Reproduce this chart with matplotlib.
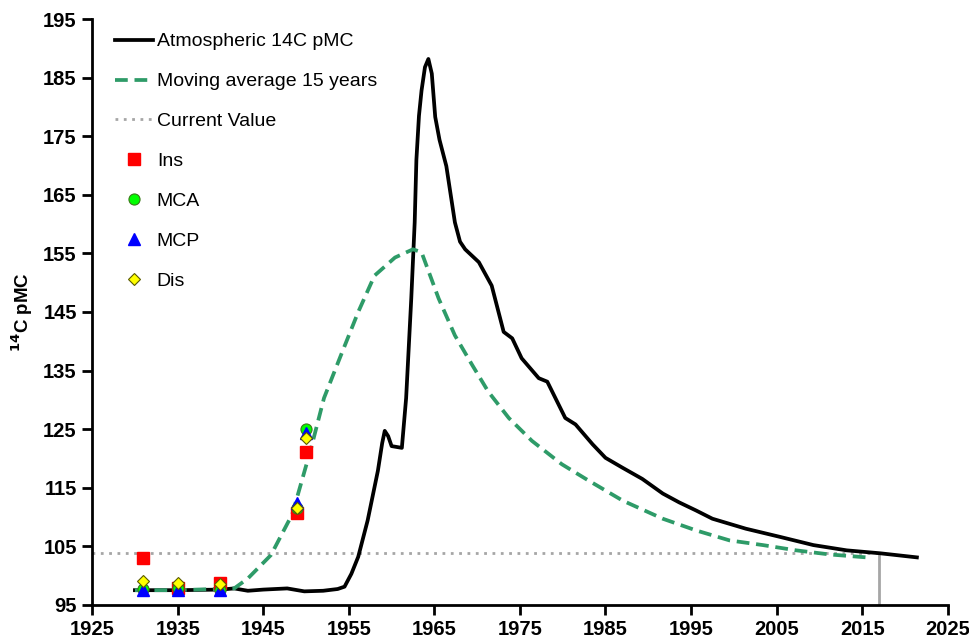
import matplotlib
matplotlib.use("Agg")
import matplotlib.pyplot as plt

plt.rcParams['font.family'] = ['Liberation Sans', 'DejaVu Sans']

# atmospheric 14C curve
annees_atm = [1930, 1935, 1940, 1941.6, 1943.2, 1945, 1947.8, 1949.8, 1952, 1953.7,
              1954.5, 1955.3, 1956.1, 1957.2, 1958.4, 1958.9, 1959.2, 1959.6, 1960,
              1961.2, 1961.7, 1962.3, 1962.7, 1962.9, 1963.2, 1963.5, 1963.9, 1964.3,
              1964.7, 1965.1, 1965.6, 1966.4, 1967.4, 1968.0, 1968.6, 1970.2, 1971.7,
              1973.1, 1974.1, 1975.2, 1977.2, 1978.2, 1980.3, 1981.5, 1983.5, 1985,
              1987, 1989.3, 1991.7, 1993.6, 1995.6, 1997.5, 2001.4, 2005.4, 2009.3,
              2013.2, 2017.1, 2021.4]
pmc_atm = [97.5, 97.5, 97.6, 97.8, 97.4, 97.6, 97.8, 97.3, 97.4, 97.7,
           98.1, 100.3, 103.2, 109.4, 117.9, 122.6, 124.7, 123.8, 122.1,
           121.8, 130.3, 147.3, 160.3, 171.0, 178.5, 182.8, 186.8, 188.2,
           185.7, 178.3, 174.4, 169.9, 160.3, 157.0, 155.7, 153.5, 149.5,
           141.6, 140.5, 137.1, 133.7, 133.1, 126.9, 125.8, 122.4, 120.1,
           118.4, 116.5, 114.0, 112.5, 111.1, 109.7, 108.0, 106.6, 105.2,
           104.3, 103.8, 103.1]

# moyenne mobile 15 ans
annees_mm = [1930, 1935, 1941.6, 1943.2, 1945.9, 1948.4, 1950.6, 1952.1, 1954.1,
             1956.1, 1958.0, 1960.4, 1962.5, 1963.5, 1965.5, 1967.4, 1969.4, 1971.3,
             1973.7, 1976.4, 1979.9, 1982.7, 1987, 1991.7, 1995.6, 1999.5, 2003.4,
             2007.3, 2011.2, 2015.5]
pmc_mm = [97.5, 97.5, 97.8, 99.5, 103.5, 110.5, 121.8, 130.3, 137.7,
          145.0, 151.2, 154.3, 155.7, 155.2, 147.3, 141.0, 136.0, 131.4,
          126.9, 123.0, 119.0, 116.5, 112.8, 109.7, 107.7, 106.0, 105.2,
          104.3, 103.6, 103.1]

valeur_actuelle = 103.8
annee_actuelle = 2017

# echantillons
annees_ech = [1931, 1935, 1940, 1949, 1950]
ins = [103.0, 97.8, 98.8, 110.6, 121.1]
mca = [97.7, 97.9, 97.6, 111.5, 125.1]
mcp = [97.6, 97.5, 97.5, 112.4, 124.4]
dis = [99.1, 98.7, 98.6, 111.6, 123.4]

fig = plt.figure(figsize=(9.7, 6.38), dpi=100)
ax = fig.add_axes([0.095, 0.052, 0.882, 0.918])

ax.plot(annees_atm, pmc_atm, color='black', lw=2.7, label='Atmospheric 14C pMC',
        zorder=3, solid_joinstyle='round')
ax.plot(annees_mm, pmc_mm, color='#2E9B68', lw=2.7, ls=(0, (3.4, 1.8)),
        label='Moving average 15 years', zorder=4)
ax.plot([1925, annee_actuelle], [valeur_actuelle, valeur_actuelle], color='#A6A6A6',
        lw=2, ls=(0, (1, 2)), label='Current Value', zorder=2)
ax.plot([annee_actuelle, annee_actuelle], [95, valeur_actuelle], color='#A6A6A6', lw=2, zorder=2)

ax.plot(annees_ech, ins, ls='none', marker='s', ms=8, color='#FF0000', mec='#FF0000', label='Ins', zorder=5)
ax.plot(annees_ech, mca, ls='none', marker='o', ms=8, color='#00FF00', mec='#3A7A1A', mew=0.8, label='MCA', zorder=6)
ax.plot(annees_ech, mcp, ls='none', marker='^', ms=8, color='#0000FF', mec='#0000FF', label='MCP', zorder=7)
ax.plot(annees_ech, dis, ls='none', marker='D', ms=6, color='#FFFF00', mec='#5A5A00', mew=0.8, label='Dis', zorder=8)

ax.set_xlim(1925, 2025)
ax.set_ylim(95, 195)
ax.set_xticks(range(1925, 2026, 10))
ax.set_yticks(range(95, 196, 10))
for s in ['top', 'right']:
    ax.spines[s].set_visible(False)
for s in ['left', 'bottom']:
    ax.spines[s].set_linewidth(2)
ax.tick_params(width=2, length=7, direction='out', labelsize=14.5, pad=4)
for lab in ax.get_xticklabels() + ax.get_yticklabels():
    lab.set_fontweight('bold')

ax.set_ylabel('$\\mathbf{^{14}}$C pMC', fontsize=13.5, fontweight='bold', labelpad=6)

ax.legend(loc='upper left', bbox_to_anchor=(0.004, 1.01), frameon=False, fontsize=14,
          labelspacing=1.15, handlelength=1.95, handletextpad=0.2, borderaxespad=0.6)

plt.savefig('out.png', dpi=100)
